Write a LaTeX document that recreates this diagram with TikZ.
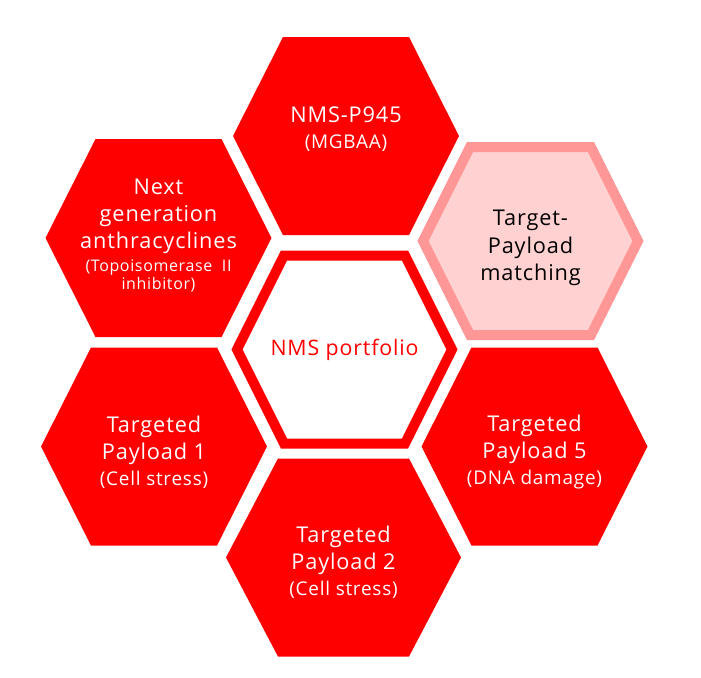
\documentclass[tikz,border=0pt]{standalone}
\usepackage{fontspec}
\setmainfont{Open Sans}[LetterSpace=4]
\definecolor{hexred}{HTML}{FF0000}
\definecolor{ringpink}{HTML}{FF9797}
\definecolor{fillpink}{HTML}{FFD1D1}
\tikzset{
  hexa/.pic={\path[pic actions] (-113,0) -- (-63,-99) -- (63,-99) -- (113,0) -- (63,99) -- (-63,99) -- cycle;},
  hexring/.pic={\path[pic actions] (-107.5,0) -- (-60.5,-94) -- (60.5,-94) -- (107.5,0) -- (60.5,94) -- (-60.5,94) -- cycle;},
  solidhex/.style={fill=hexred},
  ringhex/.style={line width=7.5pt, line join=miter},
  lbl/.style={align=center, inner sep=0pt, font=\fontsize{16.3}{20.6}\selectfont},
  whitelbl/.style={lbl, text=white},
}
\newcommand{\subtxt}{\fontsize{14.2}{15}\selectfont}
\newcommand{\tinytxt}{\fontsize{12}{13}\selectfont}
\begin{document}
\begin{tikzpicture}[x=0.75pt,y=-0.75pt]
\useasboundingbox[fill=white] (0,0) rectangle (701,678);
% hexagons
\pic[solidhex] at (346,136) {hexa};
\pic[solidhex] at (158.5,238) {hexa};
\pic[ringhex, draw=ringpink, fill=fillpink] at (530.5,241) {hexring};
\pic[ringhex, draw=hexred, fill=white] at (344.5,349.5) {hexring};
\pic[solidhex] at (154,446.5) {hexa};
\pic[solidhex] at (534.5,446.5) {hexa};
\pic[solidhex, xscale=1.04] at (343.5,557.5) {hexa};
% labels
\node[whitelbl] (p945) at (346,129) {NMS-P945\\[-1.1pt]{\subtxt (MGBAA)}};
\node[whitelbl] (nextgen) at (158.5,235.5) {Next\\generation\\anthracyclines\\[-3.4pt]{\tinytxt (Topoisomerase\ \ II}\\[-7.1pt]{\tinytxt inhibitor)}};
\node[lbl, text=black] (match) at (530.5,248) {Target-\\Payload\\matching};
\node[lbl, text=hexred, font=\fontsize{16}{20}\selectfont] (portfolio) at (344.5,350) {NMS portfolio};
\node[whitelbl] (tp1) at (154,452) {Targeted\\Payload 1\\[-1.1pt]{\subtxt (Cell stress)}};
\node[whitelbl] (tp5) at (534.5,452) {Targeted\\Payload 5\\[-1.1pt]{\subtxt (DNA damage)}};
\node[whitelbl] (tp2) at (343.5,562) {Targeted\\Payload 2\\[-1.1pt]{\subtxt (Cell stress)}};
\end{tikzpicture}
\end{document}
